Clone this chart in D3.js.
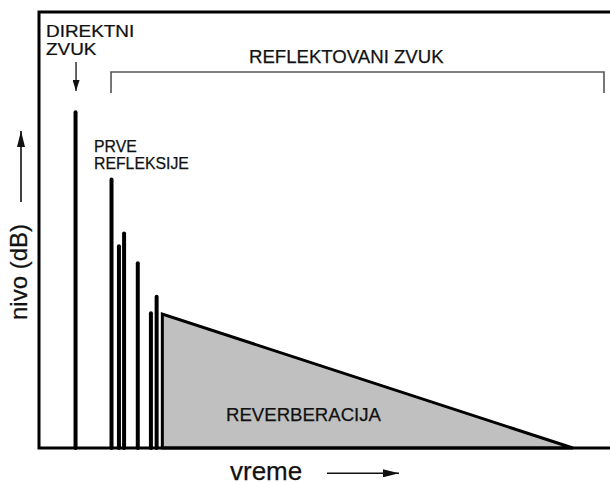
<!DOCTYPE html>
<html>
<head>
<meta charset="utf-8">
<script src="https://cdn.jsdelivr.net/npm/d3@7"></script>
<style>
  body { margin: 0; background: #fff; }
  svg text { font-family: "Liberation Sans", Arial, Helvetica, sans-serif; fill: #111; stroke: #111; stroke-width: 0.25; }
</style>
</head>
<body>
<svg id="chart" width="610" height="482"></svg>
<script>
// vremena (relativne jedinice) i nivoi impulsa
const directTime = 6.4
const directLevel = 77
const reflTimes = [12.7, 14.0, 14.9, 17.3, 19.6, 20.6]
const reflLevels = [61.6, 46.3, 49.2, 42.4, 30.9, 34.7]
// reverberacija: pocetak i kraj opadanja
const reverbTimes = [21.6, 21.6, 93.5]
const reverbLevels = [0, 30.7, 0]

const svg = d3.select("#chart")
const width = 610, height = 482

const x = d3.scaleLinear().domain([0, 100]).range([39, 610])
const y = d3.scaleLinear().domain([0, 100]).range([448, 12])

const defs = svg.append("defs")
function makeHead(id, len, w) {
    defs.append("marker")
        .attr("id", id)
        .attr("viewBox", `0 0 ${len} ${w}`)
        .attr("refX", len).attr("refY", w / 2)
        .attr("markerWidth", len).attr("markerHeight", w)
        .attr("markerUnits", "userSpaceOnUse")
        .attr("orient", "auto")
        .append("path")
        .attr("d", `M0,0 L${len},${w / 2} L0,${w} Z`)
        .attr("fill", "#111")
}
makeHead("head-small", 11, 7)
makeHead("head-big", 16, 8)

// reverberacija (polygon)
const reverbPts = reverbTimes.map((t, i) => [x(t), y(reverbLevels[i])])
svg.append("path")
    .attr("d", d3.line()(reverbPts) + "Z")
    .attr("fill", "#c0c0c0")
    .attr("stroke", "#000")
    .attr("stroke-width", 3)
    .attr("stroke-linejoin", "miter")

// prve refleksije
svg.selectAll(".refl")
    .data(reflTimes)
    .enter()
    .append("line")
    .attr("class", "refl")
    .attr("x1", d => x(d)).attr("x2", d => x(d))
    .attr("y1", y(0))
    .attr("y2", (d, i) => y(reflLevels[i]))
    .attr("stroke", "#000")
    .attr("stroke-width", 4)
    .attr("stroke-linecap", "round")

// direktni zvuk
svg.append("line")
    .attr("x1", x(directTime)).attr("x2", x(directTime))
    .attr("y1", y(0)).attr("y2", y(directLevel))
    .attr("stroke", "#000")
    .attr("stroke-width", 4)
    .attr("stroke-linecap", "round")

// okvir
svg.append("path")
    .attr("d", `M${width},${y(100)} H${x(0)} V${y(0)} H${width}`)
    .attr("fill", "none")
    .attr("stroke", "#000")
    .attr("stroke-width", 3)

// zagrada REFLEKTOVANI ZVUK
const bx0 = x(reflTimes[0]) - 0.5, bx1 = 604
svg.append("path")
    .attr("d", `M${bx0},93 V72 H${bx1} V93`)
    .attr("fill", "none")
    .attr("stroke", "#555")
    .attr("stroke-width", 1.6)

svg.append("text")
    .attr("x", 249).attr("y", 63.3)
    .attr("font-size", 18.6)
    .text("REFLEKTOVANI ZVUK")

// malo siri font kao u originalu
svg.append("text")
    .attr("transform", "translate(46,37.3) scale(1.1,1)")
    .attr("font-size", 17.2)
    .text("DIREKTNI")
svg.append("text")
    .attr("transform", "translate(46,55) scale(1.1,1)")
    .attr("font-size", 17.2)
    .text("ZVUK")

svg.append("line")
    .attr("x1", x(directTime) + 0.5).attr("x2", x(directTime) + 0.5)
    .attr("y1", 62).attr("y2", 91)
    .attr("stroke", "#111").attr("stroke-width", 1.3)
    .attr("marker-end", "url(#head-small)")

svg.append("text")
    .attr("x", 94).attr("y", 151.7)
    .attr("font-size", 15.8)
    .text("PRVE")
svg.append("text")
    .attr("x", 94).attr("y", 169.3)
    .attr("font-size", 15.8)
    .text("REFLEKSIJE")

svg.append("text")
    .attr("x", 226).attr("y", 420.7)
    .attr("font-size", 18.6)
    .text("REVERBERACIJA")

// ose
svg.append("text")
    .attr("x", 230).attr("y", 479.5)
    .attr("font-size", 26)
    .text("vreme")
svg.append("line")
    .attr("x1", 327).attr("x2", 399)
    .attr("y1", 473.3).attr("y2", 473.3)
    .attr("stroke", "#111").attr("stroke-width", 1.6)
    .attr("marker-end", "url(#head-big)")

svg.append("text")
    .attr("transform", "translate(27,320) rotate(-90)")
    .attr("font-size", 24)
    .text("nivo (dB)")
svg.append("line")
    .attr("x1", 21).attr("x2", 21)
    .attr("y1", 202).attr("y2", 131)
    .attr("stroke", "#111").attr("stroke-width", 1.6)
    .attr("marker-end", "url(#head-big)")
</script>
</body>
</html>
